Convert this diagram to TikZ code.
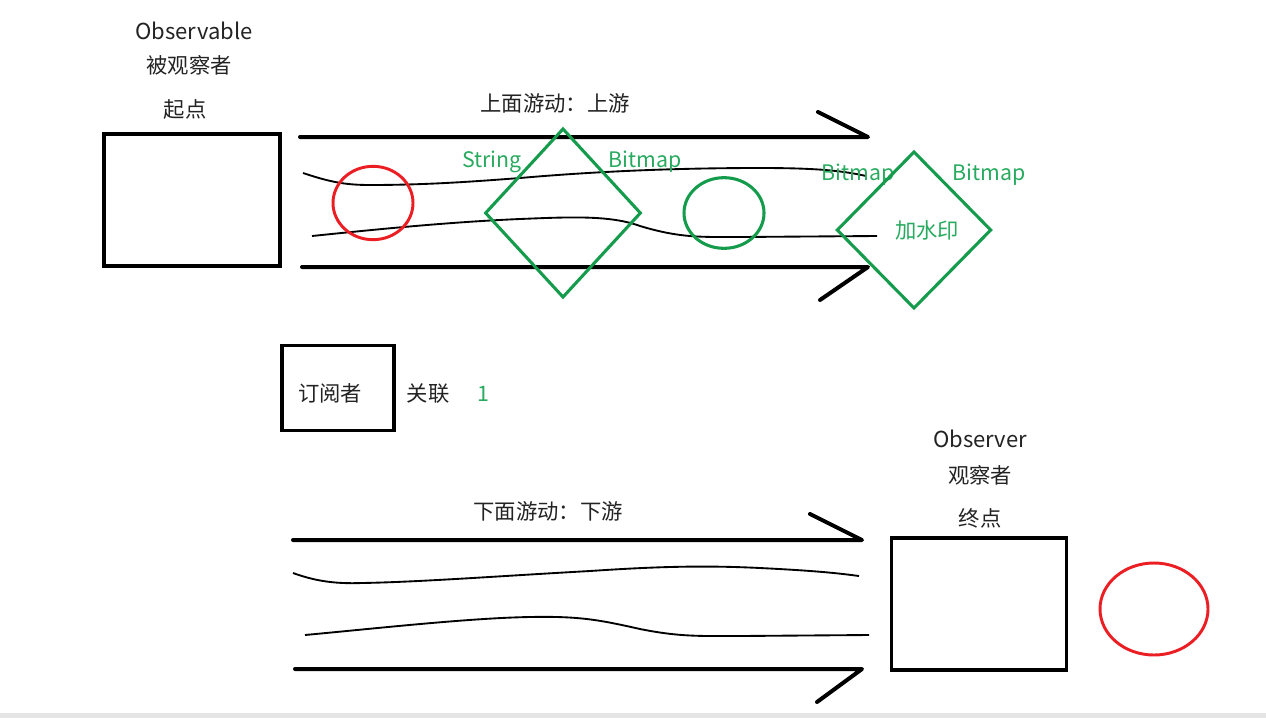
\documentclass[tikz,border=0pt]{standalone}
\usepackage{fontspec}
\setmainfont{Noto Sans CJK SC}
\usetikzlibrary{shapes.geometric}
\definecolor{grn}{RGB}{20,155,75}
\definecolor{grntxt}{RGB}{40,170,95}
\definecolor{rd}{RGB}{235,30,35}
\definecolor{txt}{RGB}{35,35,35}
\tikzset{
  boxnode/.style={draw=black, line width=2.4pt, inner sep=0pt},
  river/.style={line width=3pt, line join=round, line cap=round},
  stream/.style={line width=1.4pt},
  greendia/.style={diamond, draw=grn, line width=2.3pt, inner sep=0pt},
  redring/.style={ellipse, draw=rd, line width=2.2pt, inner sep=0pt},
  grnring/.style={ellipse, draw=grn, line width=2.3pt, inner sep=0pt},
  lbl/.style={text=txt, font=\fontsize{16}{18}\selectfont, inner sep=0pt},
  latlbl/.style={text=txt, font=\fontsize{16.5}{18}\selectfont, inner sep=0pt},
  glbl/.style={text=grntxt, font=\fontsize{16}{18}\selectfont, inner sep=0pt},
}
\begin{document}
\begin{tikzpicture}[x=0.75pt,y=-0.75pt]
\useasboundingbox (0,0) rectangle (1266,718);
\fill[white] (0,0) rectangle (1266,718);
\fill[black!10] (0,713) rectangle (1266,718);

% start: observable
\node[latlbl] (t1) at (194,31) {Observable};
\node[lbl] (t2) at (189,65) {被观察者};
\node[lbl] (t3) at (185,109) {起点};
\node[boxnode, minimum width=132pt, minimum height=99pt] (src) at (192,200) {};

% upstream
\node[lbl] (up) at (555,103) {上面游动：上游};
\coordinate (u1s) at (300,137);
\coordinate (u1e) at (868,137);
\coordinate (u1b) at (818,112);
\coordinate (u2s) at (302,267);
\coordinate (u2e) at (868,267);
\coordinate (u2b) at (820,300);
\draw[river] (u1s) -- (u1e) -- (u1b);
\draw[river] (u2s) -- (u2e) -- (u2b);
\draw[stream] (303,173) .. controls (330,182) and (345,185) .. (370,185)
  .. controls (430,185) and (480,181) .. (520,178)
  .. controls (600,171) and (680,168) .. (760,168)
  .. controls (810,168) and (840,170) .. (866,176);
\draw[stream] (312,236) .. controls (380,229) and (450,222) .. (520,219)
  .. controls (570,217) and (610,215) .. (640,226)
  .. controls (680,238) and (700,237) .. (740,237)
  -- (877,236);

\node[redring, minimum width=60pt, minimum height=55pt] (rc1) at (373,203) {};
\node[greendia, minimum width=117pt, minimum height=127pt] (d1) at (563,213) {};
\node[glbl] (s1) at (492,162) {String};
\node[glbl] (b1) at (645,162) {Bitmap};
\node[grnring, minimum width=60pt, minimum height=53pt] (gc1) at (724,213) {};
\node[glbl] (b2) at (858,175) {Bitmap};
\node[greendia, minimum width=116pt, minimum height=118pt] (d2) at (914,230) {};
\node[glbl] (wm) at (927,230) {加水印};
\node[glbl] (b3) at (989,175) {Bitmap};

% subscriber
\node[boxnode, minimum width=84pt, minimum height=64pt] (sub) at (338,388) {};
\node[lbl] (subt) at (330,393) {订阅者};
\node[lbl] (rel) at (428,394) {关联};
\node[glbl] (one) at (483,394) {1};

% downstream
\node[lbl] (down) at (548,511) {下面游动：下游};
\coordinate (d1s) at (293,540);
\coordinate (d1e) at (862,540);
\coordinate (d1b) at (810,514);
\coordinate (d2s) at (295,669);
\coordinate (d2e) at (862,669);
\coordinate (d2b) at (817,702);
\draw[river] (d1s) -- (d1e) -- (d1b);
\draw[river] (d2s) -- (d2e) -- (d2b);
\draw[stream] (293,573) .. controls (315,581) and (335,584) .. (362,583)
  .. controls (420,582) and (500,576) .. (590,571)
  .. controls (650,567) and (700,565) .. (760,568)
  .. controls (800,570) and (830,572) .. (859,576);
\draw[stream] (305,635) .. controls (380,628) and (470,618) .. (530,617)
  .. controls (580,616) and (600,620) .. (640,629)
  .. controls (680,637) and (700,636) .. (740,636)
  -- (869,635);

% end: observer
\node[latlbl] (o1) at (980,439) {Observer};
\node[lbl] (o2) at (980,475) {观察者};
\node[lbl] (o3) at (980,518) {终点};
\node[boxnode, minimum width=131pt, minimum height=99pt] (dst) at (979,604) {};
\node[redring, minimum width=81pt, minimum height=69pt] (rc2) at (1154,609) {};
\end{tikzpicture}
\end{document}
